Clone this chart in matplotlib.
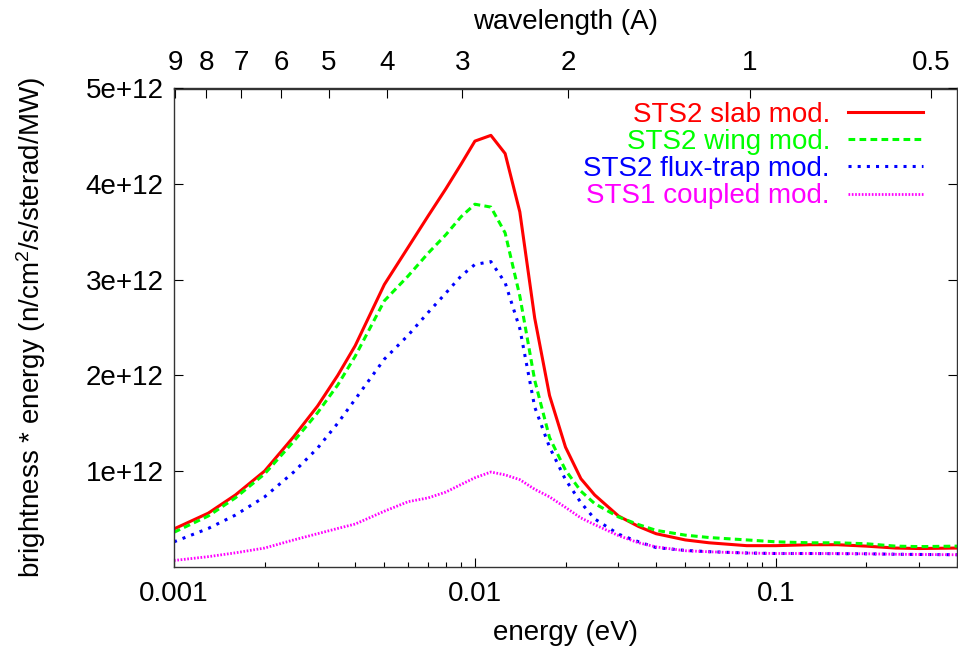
import numpy as np
import matplotlib
matplotlib.use("Agg")
import matplotlib.pyplot as plt
from matplotlib.ticker import FixedLocator, NullLocator, NullFormatter, FuncFormatter, LogLocator

plt.rcParams['font.family'] = ['Liberation Sans', 'DejaVu Sans']
plt.rcParams['mathtext.fontset'] = 'custom'
plt.rcParams['mathtext.rm'] = 'Liberation Sans'
plt.rcParams['mathtext.it'] = 'Liberation Sans'

# -------------------------
# data
# -------------------------
energy = [0.001, 0.0013, 0.0016, 0.002, 0.0025, 0.003, 0.0035, 0.004, 0.005, 0.006,
          0.007, 0.008, 0.009, 0.010, 0.0113, 0.0126, 0.0141, 0.0158, 0.0177, 0.020,
          0.0225, 0.025, 0.030, 0.035, 0.040, 0.050, 0.060, 0.080, 0.100, 0.130,
          0.160, 0.200, 0.250, 0.300, 0.400]

# brightness * energy, units of 1e12
slab = [0.395, 0.56, 0.75, 1.00, 1.36, 1.68, 2.00, 2.31, 2.95, 3.34,
        3.67, 3.95, 4.21, 4.45, 4.51, 4.32, 3.71, 2.60, 1.79, 1.25,
        0.92, 0.75, 0.53, 0.42, 0.345, 0.28, 0.25, 0.22, 0.22, 0.23,
        0.23, 0.215, 0.195, 0.19, 0.195]
wing = [0.36, 0.53, 0.72, 0.97, 1.31, 1.61, 1.90, 2.20, 2.78, 3.04,
        3.28, 3.47, 3.66, 3.79, 3.76, 3.49, 2.83, 1.95, 1.35, 1.01,
        0.79, 0.66, 0.52, 0.44, 0.38, 0.33, 0.305, 0.28, 0.26, 0.25,
        0.25, 0.24, 0.215, 0.21, 0.215]
fluxtrap = [0.26, 0.40, 0.54, 0.73, 0.99, 1.24, 1.50, 1.75, 2.17, 2.42,
            2.66, 2.86, 3.04, 3.16, 3.19, 2.97, 2.49, 1.67, 1.25, 0.91,
            0.67, 0.50, 0.34, 0.26, 0.20, 0.17, 0.157, 0.143, 0.138, 0.138,
            0.136, 0.135, 0.13, 0.128, 0.125]
coupled = [0.065, 0.105, 0.145, 0.195, 0.28, 0.345, 0.40, 0.446, 0.58, 0.68,
           0.72, 0.78, 0.86, 0.93, 0.99, 0.96, 0.91, 0.81, 0.73, 0.62,
           0.51, 0.44, 0.325, 0.25, 0.207, 0.167, 0.156, 0.143, 0.138, 0.138,
           0.138, 0.135, 0.13, 0.128, 0.125]

labels = ["STS2 slab mod.", "STS2 wing mod.", "STS2 flux-trap mod.", "STS1 coupled mod."]
wavelength_ticks = [9, 8, 7, 6, 5, 4, 3, 2, 1, 0.5]
wavelength_labels = ["9", "8", "7", "6", "5", "4", "3", "2", "1", "0.5"]
y_ticks = [1e12, 2e12, 3e12, 4e12, 5e12]

# E (eV) = 0.0818 / lambda^2 (A)
K = 0.0818


def e2l(e):
    e = np.clip(np.asarray(e, dtype=float), 1e-12, None)
    return np.sqrt(K / e)


def l2e(l):
    l = np.clip(np.asarray(l, dtype=float), 1e-12, None)
    return K / l**2


fig = plt.figure(figsize=(9.58, 6.55), dpi=100)
ax = fig.add_axes([174 / 958, 1 - 566.7 / 655, (957 - 174) / 958, (566.7 - 88.5) / 655])

E = np.array(energy)
ax.plot(E, np.array(slab) * 1e12, color='#ff0000', lw=2.2, label=labels[0])
ax.plot(E, np.array(wing) * 1e12, color='#00ff00', lw=2.2, dashes=(2.2, 1.4), label=labels[1])
ax.plot(E, np.array(fluxtrap) * 1e12, color='#0000ff', lw=2.2, dashes=(1.0, 2.0), label=labels[2])
ax.plot(E, np.array(coupled) * 1e12, color='#ff00ff', lw=2.0, dashes=(0.6, 0.6), label=labels[3])

ax.set_xscale('log')
ax.set_xlim(0.001, 0.4)
ax.set_ylim(0, 5e12)

ax.xaxis.set_major_locator(FixedLocator([0.001, 0.01, 0.1]))
ax.xaxis.set_major_formatter(FuncFormatter(lambda v, p: f"{v:g}"))
ax.xaxis.set_minor_locator(LogLocator(base=10, subs=np.arange(2, 10)))
ax.xaxis.set_minor_formatter(NullFormatter())
ax.yaxis.set_major_locator(FixedLocator(y_ticks))
ax.yaxis.set_major_formatter(FuncFormatter(lambda v, p: f"{v / 1e12:.0f}e+12"))

ax.tick_params(axis='x', which='both', direction='in', top=False, bottom=True, labelsize=20, pad=10)
ax.tick_params(axis='x', which='major', length=6.5, width=0.8)
ax.tick_params(axis='x', which='minor', length=3.6, width=0.8)
ax.tick_params(axis='y', which='major', direction='in', left=True, right=True,
               length=6.5, width=0.8, labelsize=20, pad=7.5)

for sp in ax.spines.values():
    sp.set_linewidth(1.0)
    sp.set_color('#333333')

ax.set_xlabel("energy (eV)", fontsize=20, labelpad=10)
ax.set_ylabel(r"brightness * energy (n/cm$^2$/s/sterad/MW)", fontsize=20, labelpad=27)

# wavelength axis on top
sec = ax.secondary_xaxis('top', functions=(e2l, l2e))
sec.set_xticks(wavelength_ticks, wavelength_labels)
sec.xaxis.set_minor_locator(NullLocator())
sec.tick_params(axis='x', direction='in', length=7, width=0.8, labelsize=20, pad=9)
sec.spines['top'].set_linewidth(1.0)
sec.spines['top'].set_color('#333333')
sec.set_xlabel("wavelength (A)", fontsize=20, labelpad=15)

leg = ax.legend(loc='upper right', bbox_to_anchor=(0.9566, 0.972), frameon=False,
                markerfirst=False, labelcolor='linecolor', fontsize=20,
                handlelength=2.7, handletextpad=0.65, labelspacing=0.04,
                borderpad=0, borderaxespad=0)

fig.savefig("out.png", dpi=100)
